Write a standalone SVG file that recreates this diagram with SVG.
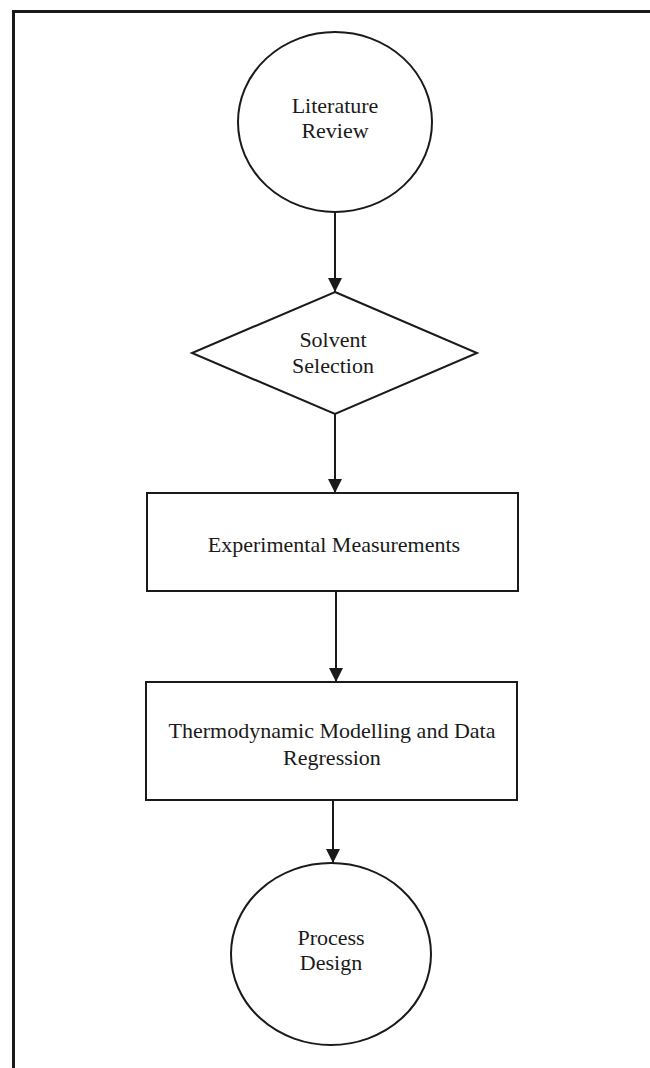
<svg xmlns="http://www.w3.org/2000/svg" width="650" height="1068" viewBox="0 0 650 1068">
  <style>
    .shape { fill: #ffffff; stroke: #1a1a1a; stroke-width: 2; }
    .frame { fill: none; stroke: #1a1a1a; stroke-width: 3; }
    .label { font-family: "Liberation Serif", "Times New Roman", serif; font-size: 22px; fill: #1a1a1a; text-anchor: middle; }
    .link { stroke: #1a1a1a; stroke-width: 2; fill: none; marker-end: url(#arrow); }
  </style>
  <defs>
    <marker id="arrow" viewBox="0 0 14 16" refX="14" refY="7" markerWidth="14" markerHeight="16" markerUnits="userSpaceOnUse" orient="auto">
      <path d="M0,0 L14,7 L0,14 Z" fill="#1a1a1a"/>
    </marker>
  </defs>

  <rect width="650" height="1068" fill="#ffffff"/>
  <!-- page border: top and left edges -->
  <path class="frame" d="M13.5,1068 V11.5 H650"/>

  <g id="connectors">
    <line class="link" x1="335" y1="213" x2="335" y2="292"/>
    <line class="link" x1="335" y1="414" x2="335" y2="493"/>
    <line class="link" x1="336" y1="591" x2="336" y2="682"/>
    <line class="link" x1="333" y1="800" x2="333" y2="863"/>
  </g>

  <g id="literature-review">
    <ellipse class="shape" cx="335" cy="122" rx="97" ry="90"/>
    <text class="label" x="335" y="113">Literature</text>
    <text class="label" x="335" y="138">Review</text>
  </g>

  <g id="solvent-selection">
    <polygon class="shape" points="335,292 477,353 335,414 192,353"/>
    <text class="label" x="333" y="347">Solvent</text>
    <text class="label" x="333" y="373">Selection</text>
  </g>

  <g id="experimental-measurements">
    <rect class="shape" x="147" y="493" width="371" height="98"/>
    <text class="label" x="334" y="552">Experimental Measurements</text>
  </g>

  <g id="thermodynamic-modelling">
    <rect class="shape" x="146" y="682" width="371" height="118"/>
    <text class="label" x="332" y="738">Thermodynamic Modelling and Data</text>
    <text class="label" x="332" y="765">Regression</text>
  </g>

  <g id="process-design">
    <ellipse class="shape" cx="331" cy="954" rx="100" ry="91"/>
    <text class="label" x="331" y="945">Process</text>
    <text class="label" x="331" y="970">Design</text>
  </g>
</svg>
